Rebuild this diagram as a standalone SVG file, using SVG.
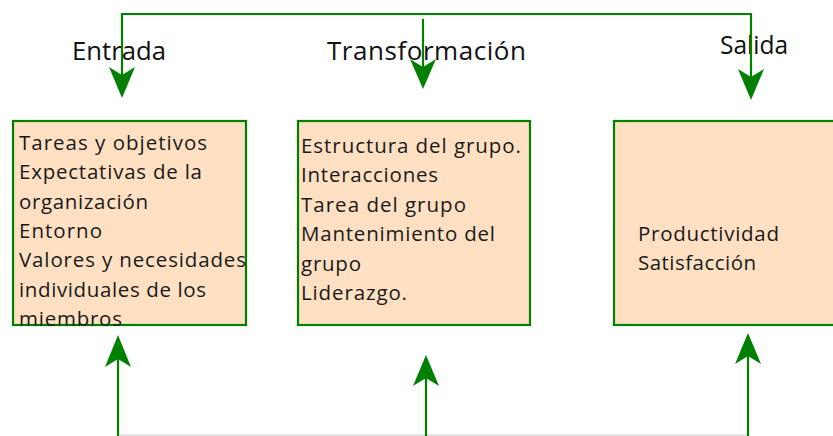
<svg xmlns="http://www.w3.org/2000/svg" width="833" height="436" viewBox="0 0 833 436">
<style>
.box{fill:#FFE0C2;stroke:#008000;stroke-width:2.2}
.ln{fill:none;stroke:#008000;stroke-width:2.2}
.hd{fill:#008000}
.t{font-family:"Open Sans",Lato,sans-serif;font-size:20.5px;fill:#1a1a1a}
.h{font-family:"Open Sans",Lato,sans-serif;font-size:26px;fill:#111}
</style>
<rect width="833" height="436" fill="#fff"/>
<g id="labels">
<text class="h" x="72" y="60" textLength="94" lengthAdjust="spacingAndGlyphs">Entrada</text>
<text class="h" x="327" y="60" textLength="199" lengthAdjust="spacing">Transformación</text>
<text class="h" x="720" y="54" textLength="68" lengthAdjust="spacingAndGlyphs">Salida</text>
</g>
<g id="entrada">
<rect class="box" x="13" y="121" width="233" height="204"/>
<text class="t" x="19" y="150" textLength="188" lengthAdjust="spacing">Tareas y objetivos</text>
<text class="t" x="19" y="179" textLength="183" lengthAdjust="spacing">Expectativas de la</text>
<text class="t" x="19" y="209" textLength="129" lengthAdjust="spacing">organización</text>
<text class="t" x="19" y="238" textLength="83" lengthAdjust="spacing">Entorno</text>
<text class="t" x="19" y="267" textLength="227" lengthAdjust="spacing">Valores y necesidades</text>
<text class="t" x="19" y="297" textLength="187" lengthAdjust="spacing">individuales de los</text>
<text class="t" x="19" y="326" textLength="103" lengthAdjust="spacing">miembros</text>
</g>
<g id="transformacion">
<rect class="box" x="298" y="121" width="232" height="204"/>
<text class="t" x="301" y="153" textLength="220" lengthAdjust="spacing">Estructura del grupo.</text>
<text class="t" x="301" y="182" textLength="137" lengthAdjust="spacing">Interacciones</text>
<text class="t" x="301" y="212" textLength="165" lengthAdjust="spacing">Tarea del grupo</text>
<text class="t" x="301" y="241" textLength="194" lengthAdjust="spacing">Mantenimiento del</text>
<text class="t" x="301" y="271" textLength="60" lengthAdjust="spacing">grupo</text>
<text class="t" x="301" y="300" textLength="106" lengthAdjust="spacing">Liderazgo.</text>
</g>
<g id="salida">
<rect class="box" x="614" y="121" width="230" height="204"/>
<text class="t" x="638" y="241" textLength="141" lengthAdjust="spacing">Productividad</text>
<text class="t" x="638" y="270" textLength="118" lengthAdjust="spacing">Satisfacción</text>
</g>
<g id="connectors">
<polyline class="ln" points="122,76 122,14 751,14 751,78"/>
<line class="ln" x1="423" y1="19" x2="423" y2="68"/>
<polygon class="hd" points="109,67 122,75 135,67 122,98"/>
<polygon class="hd" points="410,59 423,67 436,59 423,89"/>
<polygon class="hd" points="738,69 751,77 764,69 751,100"/>
<line x1="118" y1="435" x2="748" y2="435" stroke="#dcdcdc" stroke-width="1.5"/>
<line class="ln" x1="118" y1="436" x2="118" y2="358"/>
<line class="ln" x1="426" y1="436" x2="426" y2="378"/>
<line class="ln" x1="748" y1="436" x2="748" y2="356"/>
<polygon class="hd" points="105,367 118,359 131,367 118,335"/>
<polygon class="hd" points="413,386 426,378 439,386 426,355"/>
<polygon class="hd" points="735,364 748,356 761,364 748,333"/>
</g>
</svg>
